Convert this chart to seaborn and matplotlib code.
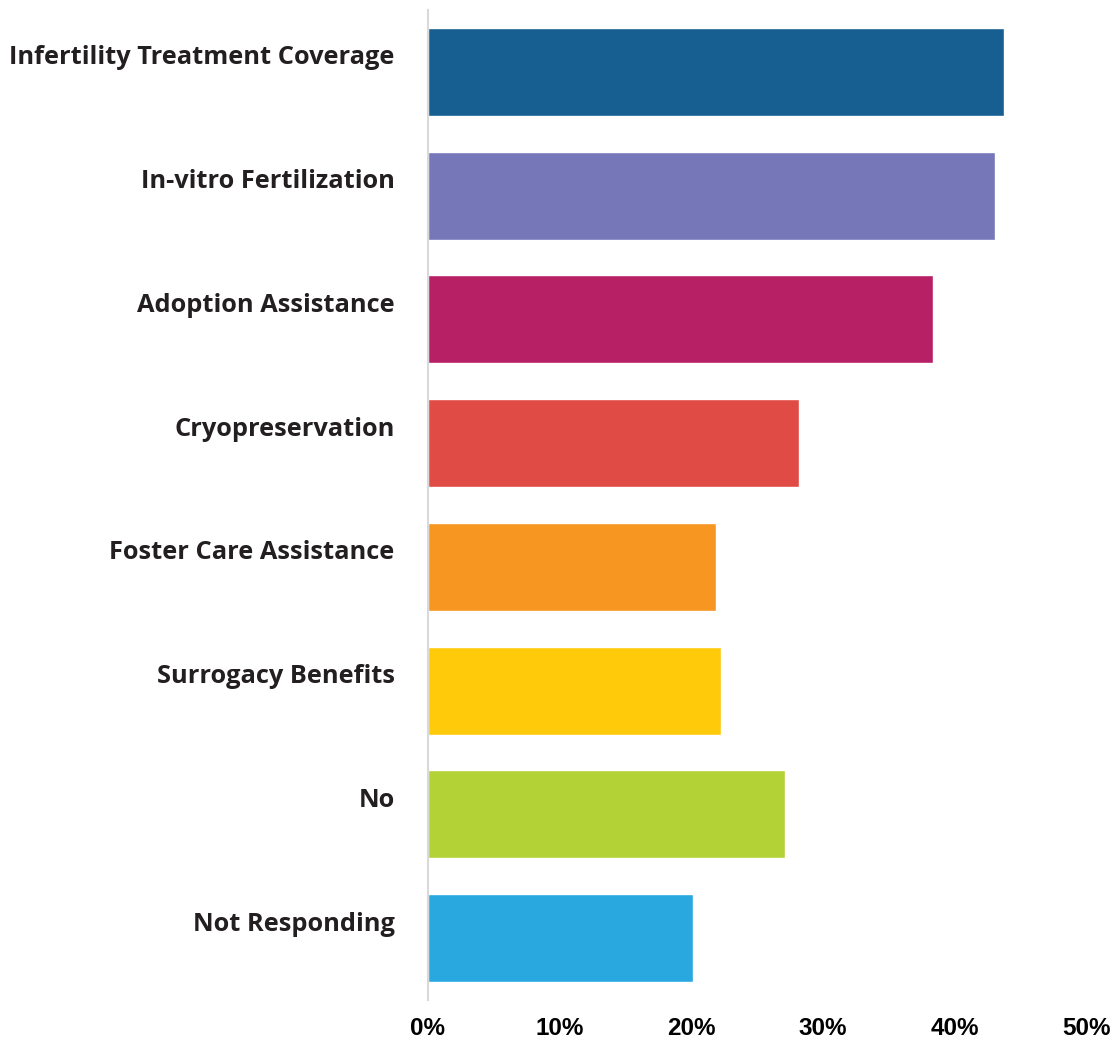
import numpy as np
import pandas as pd
import seaborn as sns
import matplotlib.pyplot as plt
import matplotlib.transforms as mtransforms

categories = ['Infertility Treatment Coverage', 'In-vitro Fertilization', 'Adoption Assistance',
              'Cryopreservation', 'Foster Care Assistance', 'Surrogacy Benefits', 'No', 'Not Responding']
values = [43.8, 43.1, 38.4, 28.2, 21.9, 22.3, 27.1, 20.1]
colors = ['#175E91', '#7577B9', '#B82065', '#E04B45', '#F79722', '#FECA0A', '#B3D236', '#29A8E0']
xticks = [0, 10, 20, 30, 40, 50]
xtick_labels = ['0%', '10%', '20%', '30%', '40%', '50%']

df = pd.DataFrame({'category': categories, 'value': values})

sns.set_style('white')
fig = plt.figure(figsize=(11.14, 10.40), dpi=100)
ax = fig.add_axes([0.3842, 0.0385, 0.9749 - 0.3842, 0.9904 - 0.0385])

sns.barplot(data=df, x='value', y='category', hue='category', palette=colors,
            legend=False, width=0.71, saturation=1, ax=ax)

ax.set_xlim(0, 50)
ax.set_ylim(7.5, -0.5)
ax.set_xlabel('')
ax.set_ylabel('')
ax.set_xticks(xticks)
ax.set_xticklabels(xtick_labels, fontsize=17.5, fontweight='bold', family='Liberation Sans', color='black')
ax.tick_params(axis='y', length=0, pad=24)
ax.tick_params(axis='x', length=0, pad=12)

# labels sit a bit above the bar centre in the original
shift = mtransforms.ScaledTranslation(0, 0.17, fig.dpi_scale_trans)
for lbl in ax.get_yticklabels():
    lbl.set_fontsize(18.3)
    lbl.set_fontweight('bold')
    lbl.set_family('Open Sans')
    lbl.set_color('#231F20')
    lbl.set_transform(lbl.get_transform() + shift)

for s in ['top', 'right', 'bottom']:
    ax.spines[s].set_visible(False)
ax.spines['left'].set_color('#D9D9D9')
ax.spines['left'].set_linewidth(1.5)

fig.savefig('out.png', dpi=100)
